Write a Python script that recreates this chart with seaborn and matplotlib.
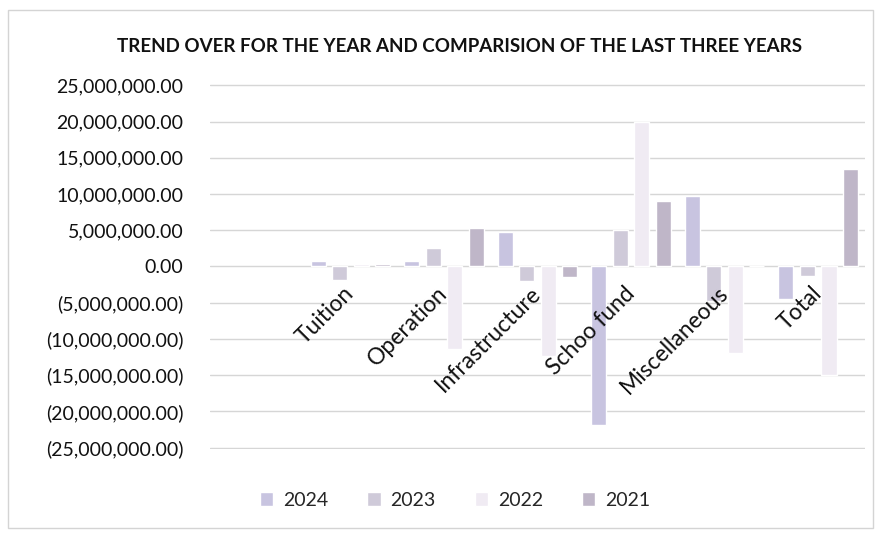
import numpy as np
import pandas as pd
import matplotlib
matplotlib.use("Agg")
import matplotlib.pyplot as plt
import seaborn as sns
from matplotlib.ticker import FuncFormatter
from matplotlib.patches import Rectangle

# ---- data ----
categories = ["", "Tuition", "Operation", "Infrastructure", "Schoo fund", "Miscellaneous", "Total"]
years = ["2024", "2023", "2022", "2021"]
v2024 = [0.8e6, 0.8e6, 4.8e6, -21.9e6, 9.8e6, -4.5e6]
v2023 = [-1.8e6, 2.5e6, -2.0e6, 5.0e6, -4.7e6, -1.3e6]
v2022 = [0.4e6, -11.4e6, -12.3e6, 19.9e6, -11.9e6, -15.0e6]
v2021 = [0.3e6, 5.3e6, -1.5e6, 9.0e6, 0.0, 13.4e6]
colors = ["#c8c4e0", "#cfcad9", "#f0ebf3", "#bfb6c8"]
title = "TREND OVER FOR THE YEAR AND COMPARISION OF THE LAST THREE YEARS"

rows = []
for yr, vals in zip(years, [v2024, v2023, v2022, v2021]):
    for cat, v in zip(categories[1:], vals):
        rows.append({"category": cat, "year": yr, "value": v})
df = pd.DataFrame(rows)

sns.set_theme(style="white")
plt.rcParams["font.family"] = ["Lato", "DejaVu Sans"]

fig = plt.figure(figsize=(8.8, 5.39), dpi=100)
ax = fig.add_axes([210/880, 1-449/539, (865-210)/880, (449-84)/539])

sns.barplot(data=df, x="category", y="value", hue="year", order=categories,
            hue_order=years, palette=colors, saturation=1, width=0.92, gap=0.3,
            errorbar=None, ax=ax, legend=True, zorder=1)

yticks = np.arange(-25e6, 25.1e6, 5e6)
ax.set_ylim(-25.2e6, 25.2e6)
ax.set_yticks(yticks)
ax.yaxis.set_major_formatter(FuncFormatter(
    lambda v, p: f"{v:,.2f}" if v >= 0 else f"({-v:,.2f})"))
ax.grid(False)
for yv in yticks:
    ax.axhline(yv, color="#d6d6d6", linewidth=1.0, zorder=0.5)
ax.set_axisbelow(False)
for s in ax.spines.values():
    s.set_visible(False)
ax.spines["bottom"].set_position(("data", 0))
ax.set_xlabel("")
ax.set_ylabel("")
ax.tick_params(axis="y", length=0, pad=19, labelsize=14, labelcolor="#111111")
ax.tick_params(axis="x", length=0, pad=17, labelsize=16.5, labelcolor="#111111",
               labelrotation=45)
plt.setp(ax.get_xticklabels(), ha="right", va="center", rotation_mode="anchor")

handles, labels = ax.get_legend_handles_labels()
ax.legend_.remove()
fig.legend(handles, labels, loc="center", bbox_to_anchor=(455/880, 1-500/539),
           ncol=4, frameon=False, fontsize=14, handlelength=0.7, handleheight=0.7,
           handletextpad=0.5, columnspacing=2.0)

fig.text(459/880, 1-47/539, title, ha="center", va="center",
         fontsize=13.5, fontweight="bold", color="#111111")

fig.patches.append(Rectangle((8/880, 1-528/539), (873-8)/880, (528-10)/539,
                             transform=fig.transFigure, fill=False,
                             edgecolor="#d4d4d4", linewidth=1.0))

fig.savefig("out.png", dpi=100)
